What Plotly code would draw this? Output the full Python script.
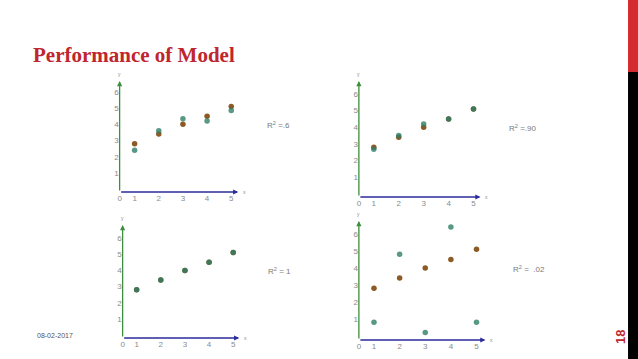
import plotly.graph_objects as go

# ---- data ----
x_vals = [1, 2, 3, 4, 5]
predicted = [2.8, 3.4, 4.0, 4.5, 5.1]          # orange points (model line)
actual_p1 = [2.4, 3.6, 4.35, 4.2, 4.85]        # R^2 = .6
actual_p2 = [2.68, 3.5, 4.2, 4.5, 5.1]         # R^2 = .90
actual_p3 = [2.8, 3.4, 4.0, 4.5, 5.1]          # R^2 = 1
actual_p4 = [0.8, 4.8, 0.2, 6.4, 0.8]          # R^2 = .02
r2_labels = ["R<sup>2</sup> =.6", "R<sup>2</sup> =.90", "R<sup>2</sup> = 1", "R<sup>2</sup> =  .02"]
x_ticks = [1, 2, 3, 4, 5]
y_ticks = [1, 2, 3, 4, 5, 6]

W, H = 638, 359
ORANGE = "#8d5a26"
TEAL = "#2f7f66"
GREEN = "#3c8f3c"
NAVY = "#2b2b9c"
TICK = "#8a8a8a"

# panel pixel boxes: (left, right, top, bottom), data ranges
panels = [
    dict(px=(118, 237, 81, 192), xr=(0.38, 5.29), yr=(-0.17, 6.67), act=actual_p1, lab=(277, 125)),
    dict(px=(358, 480, 81, 197), xr=(0.40, 5.28), yr=(-0.20, 6.78), act=actual_p2, lab=(522, 128)),
    dict(px=(121, 238, 225, 338), xr=(0.42, 5.25), yr=(-0.17, 6.80), act=actual_p3, lab=(278, 271)),
    dict(px=(358, 485, 221, 340), xr=(0.41, 5.35), yr=(-0.24, 6.76), act=actual_p4, lab=(529, 269)),
]

fig = go.Figure()
annotations = []
layout_axes = {}
for i, p in enumerate(panels, start=1):
    l, r, t, b = p["px"]
    xa = "x" if i == 1 else f"x{i}"
    ya = "y" if i == 1 else f"y{i}"
    xkey = "xaxis" if i == 1 else f"xaxis{i}"
    ykey = "yaxis" if i == 1 else f"yaxis{i}"
    layout_axes[xkey] = dict(
        domain=[l / W, r / W], range=list(p["xr"]), anchor=ya,
        showgrid=False, zeroline=False, showline=False,
        tickvals=[p["xr"][0]] + x_ticks, ticktext=["0"] + [str(v) for v in x_ticks],
        tickfont=dict(size=8, color=TICK, family="Liberation Sans"), ticks="",
        fixedrange=True,
    )
    layout_axes[ykey] = dict(
        domain=[1 - b / H, 1 - t / H], range=list(p["yr"]), anchor=xa,
        showgrid=False, zeroline=False, showline=False,
        tickvals=y_ticks, ticktext=[str(v) for v in y_ticks],
        tickfont=dict(size=8, color=TICK, family="Liberation Sans"), ticks="",
        fixedrange=True,
    )
    fig.add_trace(go.Scatter(x=x_vals, y=predicted, mode="markers", xaxis=xa, yaxis=ya,
                             marker=dict(size=5.5, color=ORANGE), showlegend=False))
    fig.add_trace(go.Scatter(x=x_vals, y=p["act"], mode="markers", xaxis=xa, yaxis=ya,
                             marker=dict(size=5.5, color=TEAL), opacity=0.8, showlegend=False))
    x0, x1 = p["xr"]
    y0, y1 = p["yr"]
    # x axis arrow
    annotations.append(dict(xref=xa, yref=ya, axref=xa, ayref=ya, x=x1, y=y0, ax=x0, ay=y0,
                            text="", showarrow=True, arrowhead=2, arrowsize=0.8, arrowwidth=1.3,
                            arrowcolor=NAVY))
    # y axis arrow
    annotations.append(dict(xref=xa, yref=ya, axref=xa, ayref=ya, x=x0, y=y1, ax=x0, ay=y0,
                            text="", showarrow=True, arrowhead=2, arrowsize=0.8, arrowwidth=1.3,
                            arrowcolor=GREEN))
    annotations.append(dict(xref=xa, yref=ya, x=x1, y=y0, xshift=6, text="x", showarrow=False,
                            xanchor="center", yanchor="middle",
                            font=dict(size=5, color=TICK, family="Liberation Sans")))
    annotations.append(dict(xref=xa, yref=ya, x=x0, y=y1, yshift=7, text="y", showarrow=False,
                            xanchor="center", yanchor="middle",
                            font=dict(size=5, color=TICK, family="Liberation Sans")))
    lx, ly = p["lab"]
    annotations.append(dict(xref="paper", yref="paper", x=lx / W, y=1 - ly / H,
                            xanchor="center", yanchor="middle",
                            text=r2_labels[i - 1], showarrow=False,
                            font=dict(size=8, color="#7a7a7a", family="Liberation Sans")))

# title, date, page number
annotations.append(dict(xref="paper", yref="paper", x=29 / W, y=1 - 55 / H,
                        xanchor="left", yanchor="middle",
                        text="<b>Performance of Model</b>", showarrow=False,
                        font=dict(size=21, color="#c0262d", family="Liberation Serif")))
annotations.append(dict(xref="paper", yref="paper", x=53 / W, y=1 - 335 / H,
                        xanchor="center", yanchor="middle",
                        text="08-02-2017", showarrow=False,
                        font=dict(size=7, color="#555555", family="Liberation Sans")))
annotations.append(dict(xref="paper", yref="paper", x=620 / W, y=1 - 337 / H, textangle=-90,
                        xanchor="center", yanchor="middle",
                        text="<b>18</b>", showarrow=False,
                        font=dict(size=13, color="#c0262d", family="Liberation Sans")))

shapes = [
    dict(type="rect", xref="paper", yref="paper", x0=628 / W, x1=1, y0=1 - 72 / H, y1=1,
         fillcolor="#d42a30", line=dict(width=0), layer="above"),
    dict(type="rect", xref="paper", yref="paper", x0=628 / W, x1=1, y0=0, y1=1 - 72 / H,
         fillcolor="#000000", line=dict(width=0), layer="above"),
]

fig.update_layout(width=W, height=H, margin=dict(l=0, r=0, t=0, b=0),
                  paper_bgcolor="white", plot_bgcolor="rgba(0,0,0,0)",
                  annotations=annotations, shapes=shapes, **layout_axes)
fig.write_html("out.html", config={"displayModeBar": False},
               post_script="document.body.style.margin='0';document.body.style.overflow='hidden';")
